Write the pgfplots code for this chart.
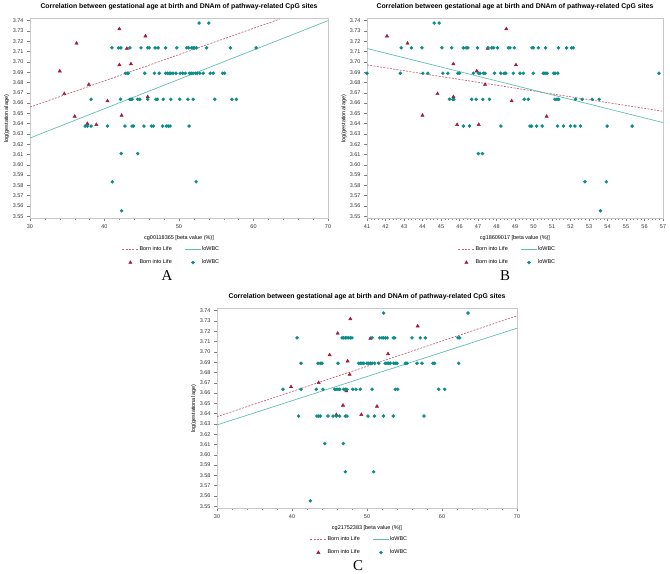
\documentclass[border=0pt]{standalone}
\usepackage{pgfplots}
\pgfplotsset{compat=1.18}
\usepackage{fontspec}
\setmainfont{Liberation Sans}
\newfontfamily\serifpanel{Liberation Serif}
\definecolor{redm}{HTML}{A11D3B}
\definecolor{redl}{HTML}{C4677A}
\definecolor{tealm}{HTML}{0A8C87}
\definecolor{teall}{HTML}{5FBFB2}
\definecolor{framec}{HTML}{C8C8C8}
\definecolor{tickc}{HTML}{808080}
\pgfplotsset{
  panel/.style={
    scale only axis, height=200bp,
    ymin=3.548, ymax=3.7423,
    ytick={3.55,3.56,3.57,3.58,3.59,3.60,3.61,3.62,3.63,3.64,3.65,3.66,3.67,3.68,3.69,3.70,3.71,3.72,3.73,3.74},
    /pgf/number format/assume math mode=true,
    y tick label style={/pgf/number format/fixed,/pgf/number format/fixed zerofill,/pgf/number format/precision=2},
    tick label style={font=\fontsize{5.5}{6}\selectfont, color=black!80},
    axis line style={framec},
    tick style={tickc, line width=0.4bp},
    major tick length=3bp, minor tick length=1.6bp,
    tick align=outside, xtick pos=left, ytick pos=left,
    title={Correlation between gestational age at birth and DNAm of pathway-related CpG sites},
    every axis title shift=0pt,
    title style={font=\bfseries\fontsize{6.9}{8}\selectfont, at={(axis description cs:0.5,1)}, anchor=center, yshift=11.5bp},
    ylabel={log(gestational age)},
    ylabel style={font=\fontsize{5.5}{6}\selectfont, at={(axis description cs:-0.078,0.5)}, anchor=center},
    xlabel style={font=\fontsize{5.5}{6}\selectfont, at={(axis description cs:0.5,0)}, anchor=center, yshift=-20bp},
    legend style={at={(axis description cs:0.5,0)}, anchor=north, xshift=-8bp, yshift=-27bp, draw=none, fill=none, inner sep=0pt,
      font=\fontsize{5.5}{6}\selectfont, row sep=6.5bp,
      /tikz/every even column/.append style={column sep=12bp},
      nodes={inner sep=0.8bp}},
    legend columns=2, legend cell align=left,
    legend image code/.code={\draw[mark repeat=2,mark phase=2,#1] plot coordinates {(0bp,0bp) (8bp,0bp) (16bp,0bp)};},
  },
  redline/.style={redl, line width=0.7bp, dash pattern=on 2bp off 1.3bp},
  tealline/.style={teall, line width=0.7bp},
  redpts/.style={only marks, mark=triangle*, mark size=1.9bp, color=redm},
  tealpts/.style={only marks, mark=*, mark size=1.55bp, color=tealm},
}
\begin{document}
\begin{tikzpicture}
\useasboundingbox (0,0) rectangle (670bp,-574bp);
% ---------------- Panel A
\begin{axis}[panel, at={(30bp,-218.3bp)}, anchor=south west, width=298bp,
  xmin=30, xmax=70, xtick={30,40,50,60,70}, minor x tick num=4,
  xlabel={cg00118365 [beta value (\%)]}]
\addplot[redline] coordinates {(30,3.656) (63.5,3.7415)};
\addlegendentry{Born into Life}
\addplot[tealline] coordinates {(30,3.626) (70,3.740)};
\addlegendentry{loWBC}
\addplot[redpts] coordinates {(34.0,3.691) (34.6,3.669) (36.25,3.718) (37.9,3.678) (36.0,3.647) (37.7,3.640) (38.9,3.639) (40.4,3.662) (42.0,3.732) (42.0,3.697) (42.3,3.648) (43.0,3.713) (43.55,3.698) (45.5,3.725) (45.8,3.666)};
\addlegendentry{Born into Life}
\addplot[tealpts] coordinates {
(52.7,3.7377) (54.0,3.7377)
(41.0,3.7136) (41.9,3.7136) (42.2,3.7136) (43.4,3.7136) (44.9,3.7136) (45.8,3.7136) (46.0,3.7136) (46.8,3.7136) (47.2,3.7136) (48.2,3.7136) (49.7,3.7136) (51.05,3.7136) (51.3,3.7136) (51.7,3.7136) (51.9,3.7136) (52.1,3.7136) (52.35,3.7136) (53.7,3.7136) (56.9,3.7136) (60.35,3.7136)
(42.8,3.6889) (43.05,3.6889) (43.2,3.6889) (45.4,3.6889) (46.7,3.6889) (47.35,3.6889) (48.2,3.6889) (48.45,3.6889) (48.7,3.6889) (48.9,3.6889) (49.2,3.6889) (49.6,3.6889) (50.15,3.6889) (50.5,3.6889) (50.85,3.6889) (51.4,3.6889) (51.65,3.6889) (51.9,3.6889) (52.2,3.6889) (52.45,3.6889) (52.8,3.6889) (53.25,3.6889) (54.2,3.6889) (54.6,3.6889) (55.85,3.6889) (56.1,3.6889)
(38.2,3.6636) (42.15,3.6636) (43.4,3.6636) (43.55,3.6636) (43.7,3.6636) (44.45,3.6636) (44.75,3.6636) (45.8,3.6636) (46.9,3.6636) (47.1,3.6636) (47.9,3.6636) (48.9,3.6636) (50.1,3.6636) (51.2,3.6636) (51.9,3.6636) (54.8,3.6636) (57.1,3.6636) (57.7,3.6636)
(37.4,3.6376) (37.7,3.6376) (38.2,3.6376) (40.4,3.6376) (42.75,3.6376) (43.7,3.6376) (43.9,3.6376) (45.3,3.6376) (46.3,3.6376) (46.55,3.6376) (47.8,3.6376) (48.3,3.6376) (48.55,3.6376) (48.8,3.6376) (51.35,3.6376)
(42.25,3.6109) (44.45,3.6109)
(41.05,3.5835) (52.3,3.5835)
(42.3,3.5553)};
\addlegendentry{loWBC}
\end{axis}
% ---------------- Panel B
\begin{axis}[panel, at={(367bp,-218.3bp)}, anchor=south west, width=296bp,
  xmin=41, xmax=57, xtick={41,42,...,57}, minor x tick num=4,
  xlabel={cg18609017 [beta value (\%)]}]
\addplot[redline] coordinates {(41,3.697) (57,3.652)};
\addlegendentry{Born into Life}
\addplot[tealline] coordinates {(41,3.713) (57,3.641)};
\addlegendentry{loWBC}
\addplot[redpts] coordinates {(42.08,3.725) (43.19,3.718) (44.0,3.648) (44.81,3.669) (45.67,3.698) (45.67,3.666) (45.87,3.639) (46.93,3.691) (47.04,3.639) (47.38,3.678) (47.52,3.713) (48.53,3.732) (48.82,3.662) (49.05,3.697) (50.71,3.647)};
\addlegendentry{Born into Life}
\addplot[tealpts] coordinates {
(44.63,3.7377) (44.9,3.7377)
(42.85,3.7136) (43.4,3.7136) (43.97,3.7136) (45.05,3.7136) (45.58,3.7136) (46.21,3.7136) (46.36,3.7136) (46.45,3.7136) (46.97,3.7136) (47.55,3.7136) (47.75,3.7136) (47.85,3.7136) (48.05,3.7136) (48.64,3.7136) (48.73,3.7136) (48.96,3.7136) (49.92,3.7136) (49.99,3.7136) (50.26,3.7136) (50.65,3.7136) (51.35,3.7136) (51.79,3.7136) (52.06,3.7136) (52.15,3.7136)
(41.0,3.6889) (42.8,3.6889) (44.02,3.6889) (44.29,3.6889) (45.1,3.6889) (45.37,3.6889) (45.91,3.6889) (46.0,3.6889) (46.75,3.6889) (47.02,3.6889) (47.11,3.6889) (47.29,3.6889) (47.38,3.6889) (47.89,3.6889) (48.23,3.6889) (48.41,3.6889) (48.5,3.6889) (48.91,3.6889) (49.27,3.6889) (49.45,3.6889) (49.99,3.6889) (50.53,3.6889) (50.62,3.6889) (50.73,3.6889) (51.09,3.6889) (51.16,3.6889) (51.31,3.6889) (56.78,3.6889)
(45.46,3.6636) (45.64,3.6636) (45.69,3.6636) (46.66,3.6636) (46.9,3.6636) (47.26,3.6636) (47.62,3.6636) (49.5,3.6636) (49.72,3.6636) (51.16,3.6636) (51.27,3.6636) (51.36,3.6636) (52.27,3.6636) (52.63,3.6636) (53.17,3.6636) (53.55,3.6636)
(46.21,3.6376) (46.54,3.6376) (48.24,3.6376) (49.81,3.6376) (49.9,3.6376) (50.17,3.6376) (50.47,3.6376) (51.3,3.6376) (51.62,3.6376) (52.0,3.6376) (52.24,3.6376) (52.54,3.6376) (53.98,3.6376) (55.33,3.6376)
(47.02,3.6109) (47.24,3.6109)
(52.78,3.5835) (53.94,3.5835)
(53.62,3.5553)};
\addlegendentry{loWBC}
\end{axis}
% ---------------- Panel C
\begin{axis}[panel, at={(217bp,-508.3bp)}, anchor=south west, width=300bp,
  xmin=30, xmax=70, xtick={30,40,50,60,70}, minor x tick num=4,
  xlabel={cg21752383 [beta value (\%)]}]
\addplot[redline] coordinates {(30,3.637) (70,3.735)};
\addlegendentry{Born into Life}
\addplot[tealline] coordinates {(30,3.629) (70,3.723)};
\addlegendentry{loWBC}
\addplot[redpts] coordinates {(39.87,3.666) (43.56,3.670) (45.02,3.697) (45.91,3.639) (46.09,3.718) (46.8,3.648) (47.24,3.662) (47.42,3.691) (47.69,3.678) (47.78,3.732) (49.24,3.639) (50.44,3.713) (51.33,3.647) (52.8,3.698) (56.76,3.725)};
\addlegendentry{Born into Life}
\addplot[tealpts] coordinates {
(52.22,3.7377) (63.47,3.7377)
(40.67,3.7136) (46.67,3.7136) (46.89,3.7136) (47.11,3.7136) (47.33,3.7136) (47.56,3.7136) (47.78,3.7136) (48.0,3.7136) (50.67,3.7136) (51.7,3.7136) (52.0,3.7136) (52.2,3.7136) (52.45,3.7136) (52.7,3.7136) (53.5,3.7136) (53.7,3.7136) (56.0,3.7136) (57.1,3.7136) (57.78,3.7136) (62.13,3.7136) (62.36,3.7136)
(41.2,3.6889) (43.47,3.6889) (43.78,3.6889) (44.0,3.6889) (46.13,3.6889) (48.89,3.6889) (49.11,3.6889) (49.33,3.6889) (49.56,3.6889) (50.0,3.6889) (50.22,3.6889) (50.44,3.6889) (50.67,3.6889) (51.02,3.6889) (51.56,3.6889) (52.44,3.6889) (52.67,3.6889) (52.89,3.6889) (53.11,3.6889) (53.56,3.6889) (53.78,3.6889) (54.0,3.6889) (55.11,3.6889) (55.33,3.6889) (56.67,3.6889) (57.33,3.6889) (58.8,3.6889) (59.02,3.6889) (62.22,3.6889)
(38.8,3.6636) (41.2,3.6636) (43.24,3.6636) (44.13,3.6636) (45.69,3.6636) (45.87,3.6636) (46.13,3.6636) (46.36,3.6636) (46.89,3.6636) (47.11,3.6636) (47.33,3.6636) (48.09,3.6636) (48.53,3.6636) (49.11,3.6636) (50.67,3.6636) (53.78,3.6636) (54.09,3.6636) (59.56,3.6636) (60.36,3.6636)
(40.89,3.6376) (43.33,3.6376) (43.56,3.6376) (43.78,3.6376) (44.8,3.6376) (45.47,3.6376) (45.91,3.6376) (46.36,3.6376) (47.11,3.6376) (47.33,3.6376) (50.13,3.6376) (50.98,3.6376) (52.2,3.6376) (53.5,3.6376) (57.6,3.6376)
(44.36,3.6109) (46.84,3.6109)
(47.11,3.5835) (50.89,3.5835)
(42.44,3.5553)};
\addlegendentry{loWBC}
\end{axis}
\node[font=\serifpanel\fontsize{15}{16}\selectfont] at (167bp,-276bp) {A};
\node[font=\serifpanel\fontsize{15}{16}\selectfont] at (505bp,-276bp) {B};
\node[font=\serifpanel\fontsize{15}{16}\selectfont] at (358bp,-566bp) {C};
\end{tikzpicture}
\end{document}
